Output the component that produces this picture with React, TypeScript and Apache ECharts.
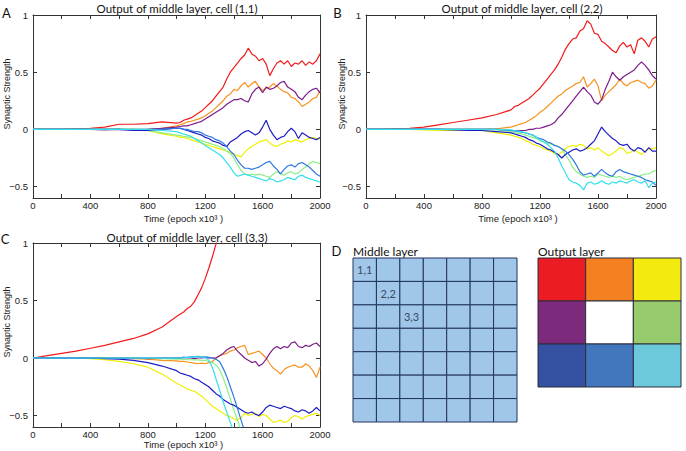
import React, { useEffect, useRef } from "react";
import * as echarts from "echarts";

// x positions (epoch x10^3) shared by all traces
const EPOCHS = [0, 100, 200, 300, 400, 500, 600, 700, 800, 900, 1000,
  1025, 1050, 1075, 1100, 1125, 1150, 1175, 1200, 1225, 1250,
  1275, 1300, 1325, 1350, 1375, 1400, 1425, 1450, 1475, 1500,
  1525, 1550, 1575, 1600, 1625, 1650, 1675, 1700, 1725, 1750,
  1775, 1800, 1825, 1850, 1875, 1900, 1925, 1950, 1975, 2000];

const X_TICK_LABELS = [0, 400, 800, 1200, 1600, 2000];
const Y_TICKS = [-0.5, 0, 0.5, 1];

// ---- Panel A: cell (1,1)
const A_RED = [0, 0, 0, 0.005, 0.01, 0.02, 0.045, 0.045, 0.05, 0.065, 0.055,
  0.06, 0.08, 0.09, 0.1, 0.12, 0.14, 0.16, 0.19, 0.22, 0.25,
  0.29, 0.33, 0.37, 0.44, 0.5, 0.54, 0.58, 0.62, 0.65, 0.71,
  0.66, 0.64, 0.6, 0.62, 0.57, 0.47, 0.53, 0.58, 0.6, 0.57,
  0.6, 0.55, 0.58, 0.57, 0.6, 0.56, 0.59, 0.57, 0.6, 0.66];
const A_ORANGE = [0, 0, 0, 0, 0, 0, 0, 0, 0, 0.01, 0.03,
  0.04, 0.05, 0.065, 0.07, 0.08, 0.09, 0.1, 0.12, 0.14, 0.16,
  0.19, 0.22, 0.25, 0.29, 0.31, 0.35, 0.34, 0.38, 0.41, 0.37,
  0.4, 0.42, 0.37, 0.34, 0.36, 0.37, 0.4, 0.38, 0.35, 0.33,
  0.32, 0.28, 0.27, 0.24, 0.2, 0.22, 0.24, 0.27, 0.28, 0.34];
const A_YELLOW = [0, 0, 0, 0, 0, 0, 0, 0, -0.01, -0.04, -0.06,
  -0.07, -0.07, -0.08, -0.09, -0.1, -0.11, -0.12, -0.13, -0.14, -0.15,
  -0.16, -0.17, -0.18, -0.19, -0.2, -0.22, -0.23, -0.24, -0.2, -0.17,
  -0.15, -0.13, -0.11, -0.1, -0.09, -0.12, -0.14, -0.15, -0.13, -0.12,
  -0.1, -0.11, -0.09, -0.1, -0.11, -0.09, -0.08, -0.07, -0.08, -0.08];
const A_PURPLE = [0, 0, 0, 0, 0, -0.005, 0, -0.005, 0, 0.01, 0.02,
  0.025, 0.03, 0.03, 0.04, 0.05, 0.06, 0.07, 0.09, 0.11, 0.13,
  0.15, 0.17, 0.19, 0.22, 0.24, 0.26, 0.26, 0.27, 0.25, 0.24,
  0.31, 0.35, 0.37, 0.32, 0.37, 0.35, 0.36, 0.38, 0.41, 0.42,
  0.37, 0.35, 0.33, 0.28, 0.26, 0.3, 0.33, 0.35, 0.36, 0.32];
const A_GREEN = [0, 0, 0, 0, 0, 0, 0, 0, -0.01, -0.03, -0.05,
  -0.055, -0.06, -0.065, -0.07, -0.08, -0.09, -0.1, -0.11, -0.12, -0.13,
  -0.14, -0.15, -0.17, -0.19, -0.21, -0.25, -0.31, -0.36, -0.39, -0.4,
  -0.39, -0.4, -0.39, -0.4, -0.41, -0.42, -0.39, -0.37, -0.39, -0.4,
  -0.38, -0.37, -0.39, -0.38, -0.35, -0.33, -0.3, -0.28, -0.29, -0.3];
const A_DBLUE = [0, 0, 0, 0, 0, 0, 0, -0.01, -0.01, 0, 0.01,
  0.01, 0, -0.01, -0.02, -0.03, -0.04, -0.05, -0.07, -0.08, -0.1,
  -0.11, -0.12, -0.14, -0.15, -0.11, -0.09, -0.07, -0.04, -0.02, -0.01,
  -0.03, -0.05, -0.03, 0.02, 0.08, 0, -0.05, -0.09, -0.07, -0.06,
  -0.02, 0.01, -0.02, -0.08, -0.03, -0.05, -0.07, -0.08, -0.09, -0.07];
const A_BLUE = [0, 0, 0, 0, 0, 0, 0, 0, 0, 0, 0.01,
  0.01, 0, 0, -0.01, -0.02, -0.02, -0.03, -0.05, -0.06, -0.07,
  -0.09, -0.1, -0.12, -0.15, -0.19, -0.22, -0.27, -0.31, -0.34, -0.34,
  -0.35, -0.34, -0.33, -0.31, -0.29, -0.28, -0.32, -0.35, -0.39, -0.35,
  -0.32, -0.31, -0.33, -0.3, -0.29, -0.31, -0.33, -0.36, -0.39, -0.41];
const A_CYAN = [0, 0, 0, 0, 0, 0, 0, 0, 0, -0.01, -0.02,
  -0.03, -0.04, -0.05, -0.06, -0.08, -0.1, -0.12, -0.14, -0.16, -0.18,
  -0.2, -0.22, -0.25, -0.29, -0.33, -0.38, -0.41, -0.4, -0.39, -0.4,
  -0.41, -0.42, -0.43, -0.44, -0.45, -0.43, -0.44, -0.46, -0.45, -0.44,
  -0.42, -0.43, -0.44, -0.41, -0.4, -0.42, -0.43, -0.44, -0.45, -0.46];

// ---- Panel B: cell (2,2)
const B_RED = [0, 0, 0.005, 0.01, 0.02, 0.04, 0.06, 0.08, 0.1, 0.13, 0.17,
  0.2, 0.21, 0.23, 0.25, 0.27, 0.3, 0.33, 0.36, 0.4, 0.44,
  0.48, 0.52, 0.57, 0.63, 0.7, 0.75, 0.79, 0.8, 0.86, 0.88,
  0.95, 0.92, 0.84, 0.83, 0.77, 0.75, 0.72, 0.69, 0.67, 0.73,
  0.76, 0.72, 0.74, 0.66, 0.78, 0.8, 0.77, 0.72, 0.79, 0.81];
const B_ORANGE = [0, 0, 0, 0, 0, 0, 0, 0, 0, 0.005, 0.02,
  0.03, 0.04, 0.05, 0.06, 0.08, 0.1, 0.12, 0.15, 0.17, 0.2,
  0.23, 0.26, 0.29, 0.31, 0.34, 0.36, 0.38, 0.4, 0.41, 0.46,
  0.37, 0.4, 0.44, 0.38, 0.25, 0.3, 0.33, 0.36, 0.39, 0.44,
  0.4, 0.38, 0.41, 0.42, 0.43, 0.41, 0.4, 0.36, 0.38, 0.43];
const B_YELLOW = [0, 0, 0, 0, -0.005, -0.01, -0.01, -0.005, -0.01, -0.03, -0.05,
  -0.06, -0.07, -0.08, -0.1, -0.11, -0.13, -0.14, -0.15, -0.17, -0.18,
  -0.19, -0.21, -0.22, -0.2, -0.17, -0.15, -0.14, -0.15, -0.13, -0.14,
  -0.17, -0.16, -0.18, -0.16, -0.19, -0.21, -0.23, -0.21, -0.19, -0.16,
  -0.17, -0.21, -0.2, -0.18, -0.2, -0.22, -0.19, -0.17, -0.17, -0.16];
const B_PURPLE = [0, 0, 0, 0, 0, 0, 0, 0, 0, 0, -0.01,
  -0.01, -0.01, -0.01, -0.01, 0, 0, 0.01, 0.01, 0.02, 0.03,
  0.04, 0.06, 0.1, 0.13, 0.17, 0.21, 0.25, 0.29, 0.33, 0.37,
  0.33, 0.3, 0.24, 0.22, 0.26, 0.35, 0.42, 0.5, 0.46, 0.43,
  0.46, 0.48, 0.5, 0.52, 0.56, 0.59, 0.56, 0.52, 0.47, 0.44];
const B_GREEN = [0, 0, 0, 0, 0, 0, 0, 0, 0, -0.005, -0.02,
  -0.03, -0.035, -0.04, -0.05, -0.06, -0.07, -0.08, -0.1, -0.11, -0.12,
  -0.13, -0.14, -0.15, -0.17, -0.22, -0.27, -0.33, -0.37, -0.39, -0.41,
  -0.42, -0.41, -0.42, -0.39, -0.4, -0.41, -0.42, -0.41, -0.42, -0.41,
  -0.43, -0.44, -0.43, -0.42, -0.41, -0.4, -0.39, -0.39, -0.37, -0.36];
const B_DBLUE = [0, 0, 0, 0, 0, 0, -0.005, -0.01, -0.01, -0.02, -0.03,
  -0.04, -0.05, -0.06, -0.07, -0.09, -0.1, -0.12, -0.13, -0.15, -0.17,
  -0.18, -0.2, -0.22, -0.25, -0.22, -0.2, -0.18, -0.17, -0.19, -0.18,
  -0.16, -0.13, -0.1, -0.04, 0.02, -0.02, -0.05, -0.08, -0.1, -0.13,
  -0.14, -0.13, -0.17, -0.19, -0.16, -0.17, -0.2, -0.16, -0.19, -0.19];
const B_BLUE = [0, 0, 0, 0, 0, 0, 0, 0, 0, 0, -0.01,
  -0.015, -0.02, -0.025, -0.03, -0.04, -0.05, -0.07, -0.08, -0.09, -0.11,
  -0.12, -0.14, -0.15, -0.17, -0.19, -0.22, -0.26, -0.31, -0.37, -0.4,
  -0.39, -0.38, -0.41, -0.38, -0.35, -0.38, -0.4, -0.41, -0.37, -0.35,
  -0.37, -0.38, -0.39, -0.4, -0.41, -0.42, -0.44, -0.45, -0.46, -0.49];
const B_CYAN = [0, 0, 0, 0, 0, 0, 0, 0, 0, 0, -0.005,
  -0.01, -0.015, -0.02, -0.03, -0.04, -0.05, -0.07, -0.09, -0.11, -0.13,
  -0.16, -0.19, -0.25, -0.32, -0.38, -0.44, -0.46, -0.47, -0.49, -0.53,
  -0.47, -0.46, -0.48, -0.47, -0.45, -0.47, -0.48, -0.46, -0.47, -0.45,
  -0.46, -0.47, -0.45, -0.44, -0.46, -0.47, -0.45, -0.51, -0.47, -0.46];

// ---- Panel C: cell (3,3)  (traces that leave the axes stop early)
const C_RED = [0, 0.02, 0.04, 0.06, 0.085, 0.11, 0.14, 0.17, 0.21, 0.27, 0.36,
  0.38, 0.4, 0.43, 0.45, 0.49, 0.55, 0.61, 0.69, 0.78, 0.88,
  0.99, 1.12];
const C_ORANGE = [0, 0, 0, 0, 0, 0, 0, -0.005, -0.01, -0.02, -0.025,
  -0.03, -0.03, -0.035, -0.04, -0.045, -0.05, -0.045, -0.05, -0.04, -0.03,
  0, 0.02, 0.03, 0.04, 0.06, 0.07, 0.09, 0.1, 0.11, 0.03,
  0.04, 0.05, 0.06, 0.03, 0, -0.05, -0.09, -0.11, -0.14, -0.1,
  -0.08, -0.07, -0.06, -0.08, -0.08, -0.05, -0.07, -0.11, -0.17, -0.08];
const C_YELLOW = [0, 0, 0, 0, -0.005, -0.015, -0.03, -0.05, -0.08, -0.14, -0.22,
  -0.235, -0.25, -0.27, -0.28, -0.29, -0.31, -0.33, -0.36, -0.39, -0.42,
  -0.44, -0.46, -0.48, -0.5, -0.51, -0.53, -0.54, -0.52, -0.48, -0.5,
  -0.49, -0.48, -0.51, -0.49, -0.5, -0.53, -0.56, -0.55, -0.54, -0.56,
  -0.55, -0.52, -0.5, -0.51, -0.53, -0.51, -0.5, -0.49, -0.48, -0.5];
const C_PURPLE = [0, 0, 0, 0, 0, 0, 0, 0, -0.005, 0, 0,
  0, 0.005, 0, 0, -0.005, 0, 0, 0.005, 0, 0,
  0, 0.02, 0.04, 0.07, 0.09, 0.1, 0.06, 0.03, 0, -0.02,
  -0.04, -0.03, -0.07, -0.05, -0.01, 0.04, 0.08, 0.1, 0.08, 0.1,
  0.09, 0.13, 0.14, 0.1, 0.09, 0.11, 0.1, 0.12, 0.13, 0.1];
const C_GREEN = [0, 0, 0, 0, 0, 0, 0, 0, 0, -0.005, -0.01,
  -0.01, -0.012, -0.015, -0.015, -0.017, -0.017, -0.02, -0.02, -0.03, -0.04,
  -0.06, -0.1, -0.17, -0.26, -0.36, -0.45, -0.54, -0.63];
const C_DBLUE = [0, 0, 0, 0, 0, -0.005, -0.01, -0.02, -0.04, -0.07, -0.11,
  -0.13, -0.14, -0.15, -0.16, -0.18, -0.19, -0.21, -0.23, -0.25, -0.28,
  -0.31, -0.33, -0.36, -0.38, -0.4, -0.41, -0.43, -0.45, -0.47, -0.48,
  -0.47, -0.49, -0.5, -0.47, -0.43, -0.41, -0.42, -0.43, -0.44, -0.42,
  -0.43, -0.44, -0.46, -0.47, -0.45, -0.46, -0.48, -0.46, -0.43, -0.46];
const C_BLUE = [0, 0, 0, 0, 0, 0, 0, 0, 0, 0, 0,
  0, 0.005, 0.005, 0.01, 0.01, 0.015, 0.01, 0.01, 0.005, 0,
  -0.01, -0.03, -0.09, -0.16, -0.25, -0.34, -0.44, -0.54, -0.64];
const C_CYAN = [0, 0, 0, 0, 0, 0, 0, 0, 0, 0, 0,
  0, 0, 0.005, 0.005, 0.01, 0.01, 0.01, 0.005, -0.02, -0.08,
  -0.18, -0.28, -0.38, -0.47, -0.56, -0.65];

const LINE_COLORS = ["#f21a1a", "#f7931e", "#eef000", "#7c1c88", "#8cee86", "#1c1cc6", "#2f78e0", "#36dfee"];

const PANELS = [
  { title: "Output of middle layer, cell (1,1)", lines: [A_RED, A_ORANGE, A_YELLOW, A_PURPLE, A_GREEN, A_DBLUE, A_BLUE, A_CYAN] },
  { title: "Output of middle layer, cell (2,2)", lines: [B_RED, B_ORANGE, B_YELLOW, B_PURPLE, B_GREEN, B_DBLUE, B_BLUE, B_CYAN] },
  { title: "Output of middle layer, cell (3,3)", lines: [C_RED, C_ORANGE, C_YELLOW, C_PURPLE, C_GREEN, C_DBLUE, C_BLUE, C_CYAN] },
];

const OUTPUT_COLORS = ["#ec1c24", "#f4801f", "#f3ea10", "#7d2a7c", "#ffffff", "#97cb6c", "#3451a2", "#4277bd", "#6bc9db"];
const CELL_LABELS = ["1,1", "2,2", "3,3"];

// layout
const GRIDS = [
  { left: 33, top: 15, width: 287, height: 183 },
  { left: 366, top: 15, width: 290, height: 183 },
  { left: 33, top: 243, width: 287, height: 184 },
];
const TITLE_POS = [[177, 8.5], [522, 8.5], [187, 237]];
const XNAME_POS = [[183.5, 218], [518, 218], [183.5, 444.5]];
const YNAME_POS = [[7, 94], [342, 94], [7, 322]];
const LETTERS = [["A", 6.5, 13], ["B", 337.5, 13], ["C", 5, 238.5], ["D", 336.5, 251]];

const TICK_FONT = "Liberation Sans";
const TEXT_FONT = "Lato";
const AXIS_COLOR = "#333";

function App() {
  const ref = useRef<HTMLDivElement>(null);
  useEffect(() => {
    if (!ref.current) return;
    const chart = echarts.init(ref.current, null, { renderer: "svg" });

    const grid = GRIDS.map((g) => ({ ...g, show: false }));
    const xAxis: any[] = [];
    const yAxis: any[] = [];
    GRIDS.forEach((_, gi) => {
      ["bottom", "top"].forEach((pos) => {
        xAxis.push({
          type: "value", gridIndex: gi, position: pos, min: 0, max: 2000, interval: 200,
          axisLine: { show: true, onZero: false, lineStyle: { color: AXIS_COLOR, width: 1 } },
          axisTick: { show: true, inside: true, length: 4, lineStyle: { color: AXIS_COLOR, width: 1 } },
          axisLabel: {
            show: pos === "bottom", customValues: X_TICK_LABELS, margin: 2, lineHeight: 10,
            fontSize: 9.5, color: "#222", fontFamily: TICK_FONT,
            formatter: (v: number) => String(v),
          },
          splitLine: { show: false },
        });
      });
      ["left", "right"].forEach((pos) => {
        yAxis.push({
          type: "value", gridIndex: gi, position: pos, min: -0.6, max: 1,
          axisLine: { show: true, onZero: false, lineStyle: { color: AXIS_COLOR, width: 1 } },
          axisTick: { show: true, inside: true, length: 4, customValues: Y_TICKS, lineStyle: { color: AXIS_COLOR, width: 1 } },
          axisLabel: {
            show: pos === "left", customValues: Y_TICKS, margin: 5,
            fontSize: 9.5, color: "#222", fontFamily: TICK_FONT,
            formatter: (v: number) => (v < 0 ? "\u2212" + Math.abs(v) : String(v)),
          },
          splitLine: { show: false },
        });
      });
    });

    const series: any[] = [];
    PANELS.forEach((p, pi) => {
      p.lines.forEach((vals, li) => {
        series.push({
          type: "line", xAxisIndex: pi * 2, yAxisIndex: pi * 2,
          data: vals.map((v, i) => [EPOCHS[i], v]),
          showSymbol: false, symbol: "none", clip: true, silent: true,
          lineStyle: { width: 1.2, color: LINE_COLORS[li] },
          itemStyle: { color: LINE_COLORS[li] },
          z: 2,
        });
      });
    });

    const graphic: any[] = [];
    PANELS.forEach((p, pi) => {
      graphic.push({
        type: "text", x: TITLE_POS[pi][0], y: TITLE_POS[pi][1],
        style: { text: p.title, fill: "#111", fontSize: 11.5, fontFamily: TEXT_FONT, align: "center", verticalAlign: "middle" },
      });
      graphic.push({
        type: "text", x: XNAME_POS[pi][0], y: XNAME_POS[pi][1],
        style: { text: "Time (epoch x10\u00b3 )", fill: "#222", fontSize: 9.5, lineHeight: 10, fontFamily: TICK_FONT, align: "center", verticalAlign: "middle" },
      });
      graphic.push({
        type: "text", x: YNAME_POS[pi][0], y: YNAME_POS[pi][1], rotation: Math.PI / 2,
        style: { text: "Synaptic Strength", fill: "#222", fontSize: 9, fontFamily: TICK_FONT, align: "center", verticalAlign: "middle" },
      });
    });
    LETTERS.forEach(([t, x, y]) => {
      graphic.push({
        type: "text", x, y,
        style: { text: t, fill: "#111", fontSize: 13, fontFamily: TEXT_FONT, align: "center", verticalAlign: "middle" },
      });
    });

    // Panel D: middle layer 7x7
    const mx = 353, my = 258, msz = 164 / 7;
    for (let r = 0; r < 7; r++) {
      for (let c = 0; c < 7; c++) {
        graphic.push({
          type: "rect", shape: { x: mx + c * msz, y: my + r * msz, width: msz, height: msz },
          style: { fill: "#a0c6ea", stroke: "#22345a", lineWidth: 1 },
        });
      }
    }
    CELL_LABELS.forEach((t, i) => {
      graphic.push({
        type: "text", x: mx + i * msz + msz / 2, y: my + i * msz + msz / 2,
        style: { text: t, fill: "#3a4a60", fontSize: 11, fontFamily: TEXT_FONT, align: "center", verticalAlign: "middle" },
      });
    });
    graphic.push({
      type: "text", x: 353, y: 251,
      style: { text: "Middle layer", fill: "#111", fontSize: 12, fontFamily: TEXT_FONT, align: "left", verticalAlign: "middle" },
    });

    // Output layer 3x3
    const ox = 538, oy = 258, ow = 143 / 3, oh = 129 / 3;
    OUTPUT_COLORS.forEach((col, i) => {
      const r = Math.floor(i / 3), c = i % 3;
      graphic.push({
        type: "rect", shape: { x: ox + c * ow, y: oy + r * oh, width: ow, height: oh },
        style: { fill: col, stroke: "#2c2c3c", lineWidth: 1 },
      });
    });
    graphic.push({
      type: "text", x: 538, y: 251,
      style: { text: "Output layer", fill: "#111", fontSize: 12, fontFamily: TEXT_FONT, align: "left", verticalAlign: "middle" },
    });

    chart.setOption({ animation: false, grid, xAxis, yAxis, series, graphic });
    return () => chart.dispose();
  }, []);
  return <div ref={ref} style={{ position: "fixed", left: 0, top: 0, width: 686, height: 451, background: "#fff" }} />;
}

export default App;
